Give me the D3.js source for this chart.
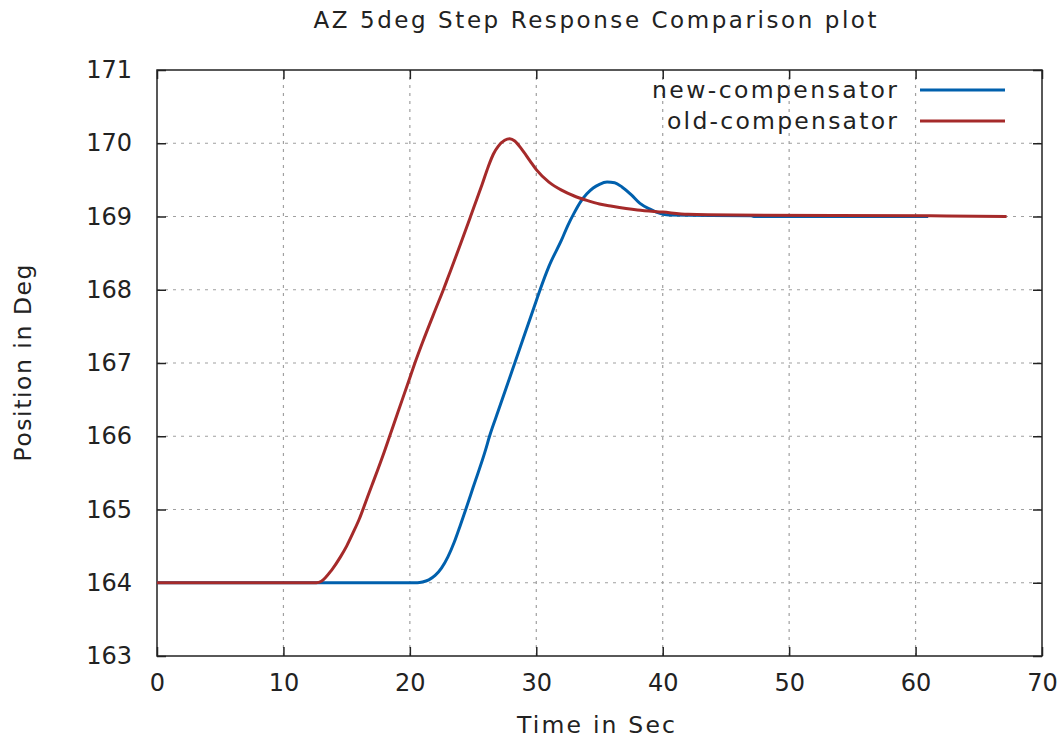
<!DOCTYPE html>
<html>
<head>
<meta charset="utf-8">
<script src="https://cdn.jsdelivr.net/npm/d3@7"></script>
<style>
  body { margin: 0; background: #fff; }
  text { font-family: "DejaVu Sans", sans-serif; fill: #222; }
</style>
</head>
<body>
<div id="chart"></div>
<script>
// new compensator: time (s) and position (deg)
const newTime = [0, 20.6, 21, 21.5, 22, 22.5, 23, 23.5, 24, 24.5, 25, 26, 26.3, 27, 28, 28.3, 29, 30, 30.3, 31, 32, 32.5, 33, 33.5, 34, 34.5, 35, 35.6, 36.2, 36.8, 37.5, 38.2, 39, 39.5, 40.5, 47, 47.2, 61];
const newPos = [164, 164, 164.01, 164.04, 164.1, 164.2, 164.35, 164.55, 164.79, 165.04, 165.3, 165.82, 166, 166.35, 166.85, 167, 167.35, 167.85, 168, 168.32, 168.68, 168.88, 169.05, 169.2, 169.31, 169.39, 169.44, 169.47, 169.46, 169.4, 169.3, 169.18, 169.1, 169.06, 169.02, 169.01, 169.0, 169.0];

// old compensator
const oldTime = [0, 12.6, 13, 13.8, 14.5, 15, 15.5, 16, 16.5, 17, 18, 18.4, 19, 20, 20.4, 21, 22, 22.65, 23, 24, 24.8, 25.3, 25.7, 26.2, 26.6, 27, 27.5, 27.9, 28.3, 28.8, 29.5, 30, 31, 32, 33, 34, 35, 36, 38, 40, 42, 45.6, 61.2, 67.2];
const oldPos = [164, 164, 164.02, 164.17, 164.35, 164.5, 164.68, 164.87, 165.1, 165.33, 165.8, 166, 166.3, 166.8, 167, 167.28, 167.72, 168, 168.16, 168.62, 169, 169.24, 169.43, 169.68, 169.85, 169.96, 170.04, 170.06, 170.03, 169.93, 169.76, 169.64, 169.47, 169.36, 169.28, 169.22, 169.17, 169.14, 169.09, 169.06, 169.03, 169.02, 169.01, 169.0];

const xTicks = [0, 10, 20, 30, 40, 50, 60, 70];
const yTicks = [163, 164, 165, 166, 167, 168, 169, 170, 171];

const seriesNames = ["new-compensator", "old-compensator"];
const seriesColors = ["#0060ad", "#a52a2a"];

const width = 1064, height = 742;
const margin = { top: 70, right: 22, bottom: 86, left: 157 };

const svg = d3.select("#chart").append("svg")
  .attr("width", width)
  .attr("height", height);

const x = d3.scaleLinear().domain([0, 70]).range([margin.left, width - margin.right]);
const y = d3.scaleLinear().domain([163, 171]).range([height - margin.bottom, margin.top]);

// grid
const grid = svg.append("g")
  .attr("stroke", "#a0a0a0")
  .attr("stroke-width", 1.2)
  .attr("stroke-dasharray", "3,5");

grid.selectAll("line.vx")
  .data(xTicks.slice(1, -1))
  .enter().append("line")
  .attr("x1", d => x(d)).attr("x2", d => x(d))
  .attr("y1", y(163)).attr("y2", y(171));

grid.selectAll("line.hy")
  .data(yTicks.slice(1, -1))
  .enter().append("line")
  .attr("x1", x(0)).attr("x2", x(70))
  .attr("y1", d => y(d)).attr("y2", d => y(d));

// axes, ticks pointing inward on all sides
const tickLen = 9;
svg.append("g")
  .attr("transform", `translate(0,${y(163)})`)
  .call(d3.axisBottom(x).tickValues(xTicks).tickSizeInner(-tickLen).tickSizeOuter(0).tickPadding(18))
  .call(g => g.select(".domain").remove())
  .selectAll("text").attr("font-size", 24).attr("dy", "0.71em");

svg.append("g")
  .attr("transform", `translate(0,${y(171)})`)
  .call(d3.axisTop(x).tickValues(xTicks).tickSizeInner(-tickLen).tickSizeOuter(0).tickFormat(""))
  .call(g => g.select(".domain").remove());

svg.append("g")
  .attr("transform", `translate(${x(0)},0)`)
  .call(d3.axisLeft(y).tickValues(yTicks).tickSizeInner(-tickLen).tickSizeOuter(0).tickPadding(25))
  .call(g => g.select(".domain").remove())
  .selectAll("text").attr("font-size", 24);

svg.append("g")
  .attr("transform", `translate(${x(70)},0)`)
  .call(d3.axisRight(y).tickValues(yTicks).tickSizeInner(-tickLen).tickSizeOuter(0).tickFormat(""))
  .call(g => g.select(".domain").remove());

svg.selectAll(".tick line").attr("stroke", "#222").attr("stroke-width", 1.5);
svg.selectAll(".tick text").attr("fill", "#222").attr("font-family", "DejaVu Sans, sans-serif");

// frame
svg.append("rect")
  .attr("x", x(0)).attr("y", y(171))
  .attr("width", x(70) - x(0)).attr("height", y(163) - y(171))
  .attr("fill", "none").attr("stroke", "#222").attr("stroke-width", 1.5);

// lines
const series = [
  { t: newTime, v: newPos },
  { t: oldTime, v: oldPos }
];
const line = d3.line()
  .x(d => x(d[0]))
  .y(d => y(d[1]))
  .curve(d3.curveMonotoneX);

series.forEach((s, i) => {
  svg.append("path")
    .datum(s.t.map((t, j) => [t, s.v[j]]))
    .attr("fill", "none")
    .attr("stroke", seriesColors[i])
    .attr("stroke-width", 3)
    .attr("d", line);
});

// legend (gnuplot spreads its letters, hence the textLength)
const legendWidths = [245, 230];
const legend = svg.append("g");
seriesNames.forEach((name, i) => {
  const ly = 90 + i * 31;
  legend.append("text")
    .attr("x", 897).attr("y", ly)
    .attr("dy", "0.35em")
    .attr("text-anchor", "end")
    .attr("font-size", 23.5)
    .attr("textLength", legendWidths[i])
    .attr("lengthAdjust", "spacing")
    .text(name);
  legend.append("line")
    .attr("x1", 920).attr("x2", 1005)
    .attr("y1", ly).attr("y2", ly)
    .attr("stroke", seriesColors[i])
    .attr("stroke-width", 3);
});

// titles
svg.append("text")
  .attr("x", 595).attr("y", 28)
  .attr("text-anchor", "middle")
  .attr("font-size", 23)
  .attr("textLength", 563)
  .attr("lengthAdjust", "spacing")
  .text("AZ 5deg Step Response Comparison plot");

svg.append("text")
  .attr("x", 596).attr("y", 733)
  .attr("text-anchor", "middle")
  .attr("font-size", 23.5)
  .attr("textLength", 158)
  .attr("lengthAdjust", "spacing")
  .text("Time in Sec");

svg.append("text")
  .attr("transform", `translate(31,${363}) rotate(-90)`)
  .attr("text-anchor", "middle")
  .attr("font-size", 23.5)
  .attr("textLength", 197)
  .attr("lengthAdjust", "spacing")
  .text("Position in Deg");
</script>
</body>
</html>
